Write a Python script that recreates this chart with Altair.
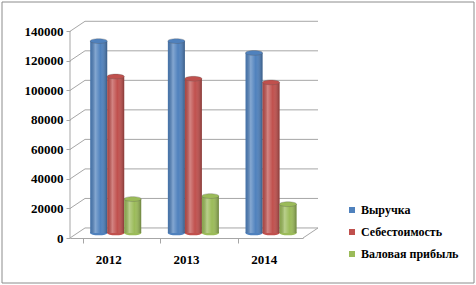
import altair as alt
import pandas as pd

# ---- data ----
years = ["2012", "2013", "2014"]
series = ["Выручка", "Себестоимость", "Валовая прибыль"]
revenue = [130000, 130000, 122000]
cost = [106000, 104500, 102000]
profit = [23000, 25000, 19500]
y_ticks = [0, 20000, 40000, 60000, 80000, 100000, 120000, 140000]
colors = ["#4F81BD", "#C0504D", "#9BBB59"]

# ---- style constants ----
DEPTH = 6800      # apparent depth of the 3D wall, in y units
HALF = 3400       # bars sit half way into the depth
W, H = 233, 217
FONT = "Liberation Serif"

rows = []
for i, yr in enumerate(years):
    for s, vals in zip(series, [revenue, cost, profit]):
        rows.append({"year": yr, "series": s, "value": vals[i]})
df = pd.DataFrame(rows)
ticks_df = pd.DataFrame({"v": y_ticks})

yscale = alt.Scale(domain=[0, 147000], nice=False)
xscale = alt.Scale(paddingInner=0.34, paddingOuter=0.17)
xoff = alt.XOffset("series:N", scale=alt.Scale(domain=series, paddingInner=0, range=[7, 58]))
cscale = alt.Scale(domain=series, range=colors)
GRID = "#a6a6a6"

legend = alt.Legend(
    title=None, orient="none", legendX=276, legendY=183,
    symbolType="square", symbolSize=36, symbolStrokeWidth=0,
    labelFontWeight="bold", labelFontSize=12, labelColor="black",
    rowPadding=10, labelOffset=3)
cenc = alt.Color("series:N", scale=cscale, legend=legend)

base_t = alt.Chart(ticks_df).transform_calculate(yb=f"datum.v + {DEPTH}")

yaxis = alt.Axis(values=y_ticks, format="d", title=None, grid=False, domain=False,
                 labelFontWeight="bold", labelFontSize=13, labelColor="black",
                 labelOverlap=False, tickColor=GRID, tickSize=4, labelPadding=3)

diag = base_t.mark_rule(color=GRID, strokeWidth=1).encode(
    x=alt.value(0), x2=alt.value(15),
    y=alt.Y("v:Q", scale=yscale, axis=yaxis),
    y2="yb:Q",
)
back_grid = base_t.mark_rule(color=GRID, strokeWidth=1).encode(
    x=alt.value(15), x2=alt.value(248),
    y=alt.Y("yb:Q", scale=yscale, axis=yaxis),
)
front_edge = alt.Chart(pd.DataFrame({"a": [0], "b": [y_ticks[-1]]})).mark_rule(color=GRID).encode(
    x=alt.value(0), y=alt.Y("a:Q", scale=yscale, axis=yaxis), y2="b:Q")
floor_edge = alt.Chart(pd.DataFrame({"a": [0], "b": [DEPTH]})).mark_rule(color=GRID).encode(
    x=alt.value(W), x2=alt.value(W + 15), y=alt.Y("a:Q", scale=yscale, axis=yaxis), y2="b:Q")

bars_base = alt.Chart(df).transform_calculate(top=f"datum.value + {HALF}", bot=f"{HALF}")

xenc = alt.X("year:N", scale=xscale, sort=years, axis=alt.Axis(
    title=None, labelAngle=0, labelFontWeight="bold", labelFontSize=13,
    labelColor="black", domainColor=GRID, tickColor=GRID, tickSize=5, bandPosition=0,
    labelPadding=10))

ELL = "M -1 0 A 1 0.28 0 1 1 1 0 A 1 0.28 0 1 1 -1 0 Z"
BW = 17.1

bottom_ell = bars_base.mark_point(shape=ELL, size=BW * BW, filled=True, opacity=1).encode(
    x=xenc, xOffset=xoff, y=alt.Y("bot:Q", scale=yscale, axis=yaxis), color=cenc)

bars = bars_base.mark_bar().encode(
    x=xenc, xOffset=xoff,
    y=alt.Y("top:Q", scale=yscale, axis=yaxis), y2="bot:Q", color=cenc)
shade = alt.Gradient(
    gradient="linear", x1=0, x2=1, y1=0, y2=0,
    stops=[
        alt.GradientStop(color="rgba(0,0,0,0.10)", offset=0),
        alt.GradientStop(color="rgba(255,255,255,0.30)", offset=0.3),
        alt.GradientStop(color="rgba(255,255,255,0)", offset=0.6),
        alt.GradientStop(color="rgba(0,0,0,0.30)", offset=1),
    ])
overlay = bars_base.mark_bar(color=shade).encode(
    x=xenc, xOffset=xoff, y=alt.Y("top:Q", scale=yscale, axis=yaxis), y2="bot:Q")
top_ell = bars_base.mark_point(shape=ELL, size=BW * BW, filled=True, opacity=1,
                               stroke="#555555", strokeWidth=0.3).encode(
    x=xenc, xOffset=xoff, y=alt.Y("top:Q", scale=yscale, axis=yaxis), color=cenc)

frame = alt.Chart(pd.DataFrame({"a": [0]})).mark_rect(
    fillOpacity=0, stroke="#8c8c8c", strokeWidth=1).encode(
    x=alt.value(-68), x2=alt.value(404), y=alt.value(-19), y2=alt.value(262))

chart = alt.layer(
    diag, back_grid, front_edge, floor_edge,
    bottom_ell, bars, overlay, top_ell, frame
).properties(
    width=W, height=H,
    autosize=alt.AutoSizeParams(type="none"),
    padding={"left": 70, "top": 21, "right": 173, "bottom": 47},
    background="white",
).configure(font=FONT).configure_axis(
    labelFont=FONT, labelOverlap=False
).configure_legend(labelFont=FONT).configure_view(stroke=None)

chart.save("out.html", embed_options={"renderer": "svg", "actions": False})
